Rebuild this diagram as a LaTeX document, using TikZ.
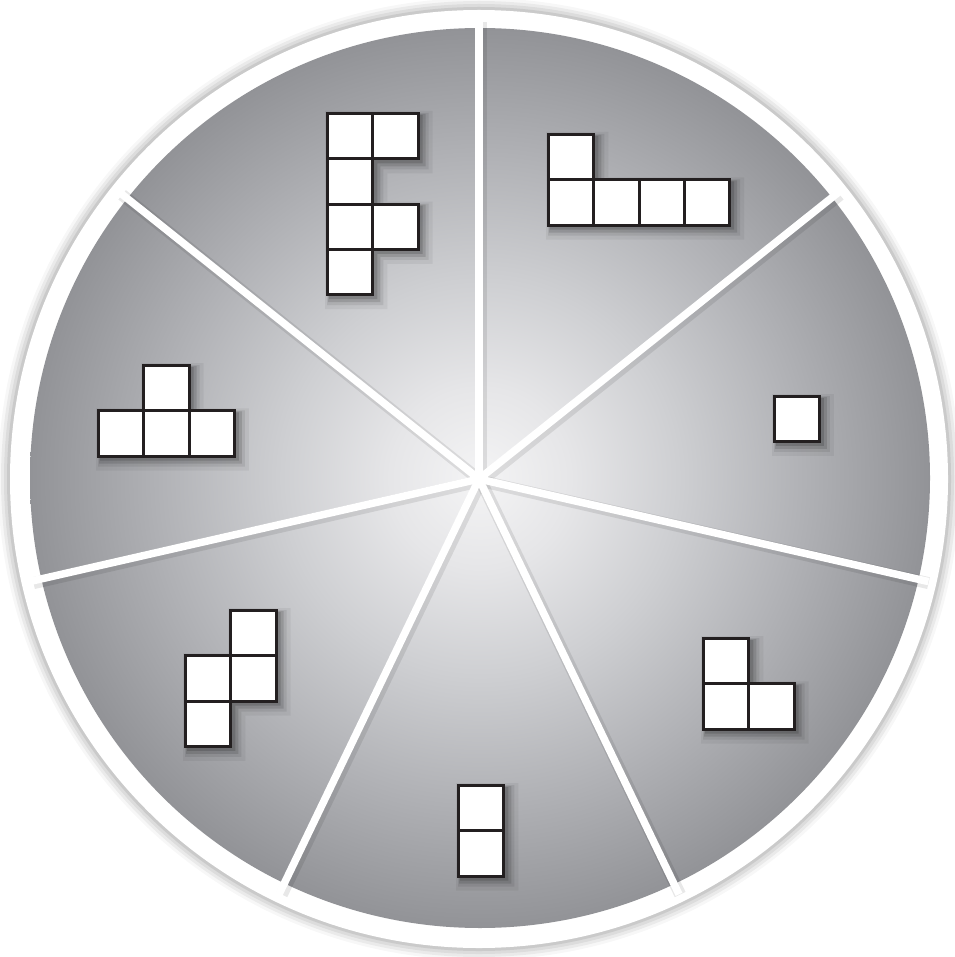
\documentclass[tikz,border=0pt]{standalone}
\usetikzlibrary{calc}
\definecolor{g0}{RGB}{244,244,245}
\definecolor{g1}{RGB}{230,230,232}
\definecolor{g2}{RGB}{206,207,210}
\definecolor{g3}{RGB}{176,177,181}
\definecolor{g4}{RGB}{146,147,151}
\definecolor{ink}{RGB}{35,31,32}
\pgfdeclareradialshading{disk}{\pgfpoint{0bp}{0bp}}{color(0bp)=(g0); color(5bp)=(g1); color(11bp)=(g2); color(18bp)=(g3); color(25bp)=(g4); color(50bp)=(g4)}
\tikzset{
  cellbox/.style={draw=ink,fill=white,line width=3,line join=miter},
  spoke/.style={white,line width=7.5},
  spokeshadow/.style={black,opacity=0.09,line width=12}
}
\newcommand\polyo[3]{%
  \foreach \e/\o/\op in {7/6/0.05,4/5/0.08,2/4/0.12,0/3/0.15}{%
    \fill[black,opacity=\op] \foreach \c/\r in {#3}{({#1+\c*45.3-1.5-\e+\o},{#2+\r*45.3-1.5-\e+\o}) rectangle ++({45.3+3+2*\e},{45.3+3+2*\e})};
  }%
  \foreach \c/\r in {#3}{\draw[cellbox] ({#1+\c*45.3},{#2+\r*45.3}) rectangle ++(45.3,45.3);}%
}
\begin{document}
\begin{tikzpicture}[x=1pt,y=-1pt]
\useasboundingbox (0,0) rectangle (954,957);
\fill[white] (0,0) rectangle (954,957);
\coordinate (o) at (479,479);
\coordinate (c) at (479,479);
% outer soft shadow
\foreach \r/\op in {481/0.03,478/0.05,475/0.06,472/0.08}{\fill[black,opacity=\op] (o) circle (\r);}
% white ring
\fill[white] (o) circle (469);
% gray disk
\shade[shading=disk] (480,478) circle (450);
% spokes
\foreach \k in {0,...,6}{%
  \pgfmathsetmacro\a{-90+\k*360/7}
  \draw[spokeshadow] ($(c)+(2,2)$) -- ++(\a:459);
}
\foreach \k in {0,...,6}{%
  \pgfmathsetmacro\a{-90+\k*360/7}
  \draw[spoke] (c) -- ++(\a:461);
}
% polyominoes
\polyo{327.5}{113.5}{0/0,1/0,0/1,0/2,1/2,0/3}
\polyo{548.5}{134.5}{0/0,0/1,1/1,2/1,3/1}
\polyo{774.5}{396.5}{0/0}
\polyo{98.5}{365.5}{1/0,0/1,1/1,2/1}
\polyo{185.5}{610.5}{1/0,0/1,1/1,0/2}
\polyo{703.5}{638.5}{0/0,0/1,1/1}
\polyo{458.5}{785.5}{0/0,0/1}
\end{tikzpicture}
\end{document}
